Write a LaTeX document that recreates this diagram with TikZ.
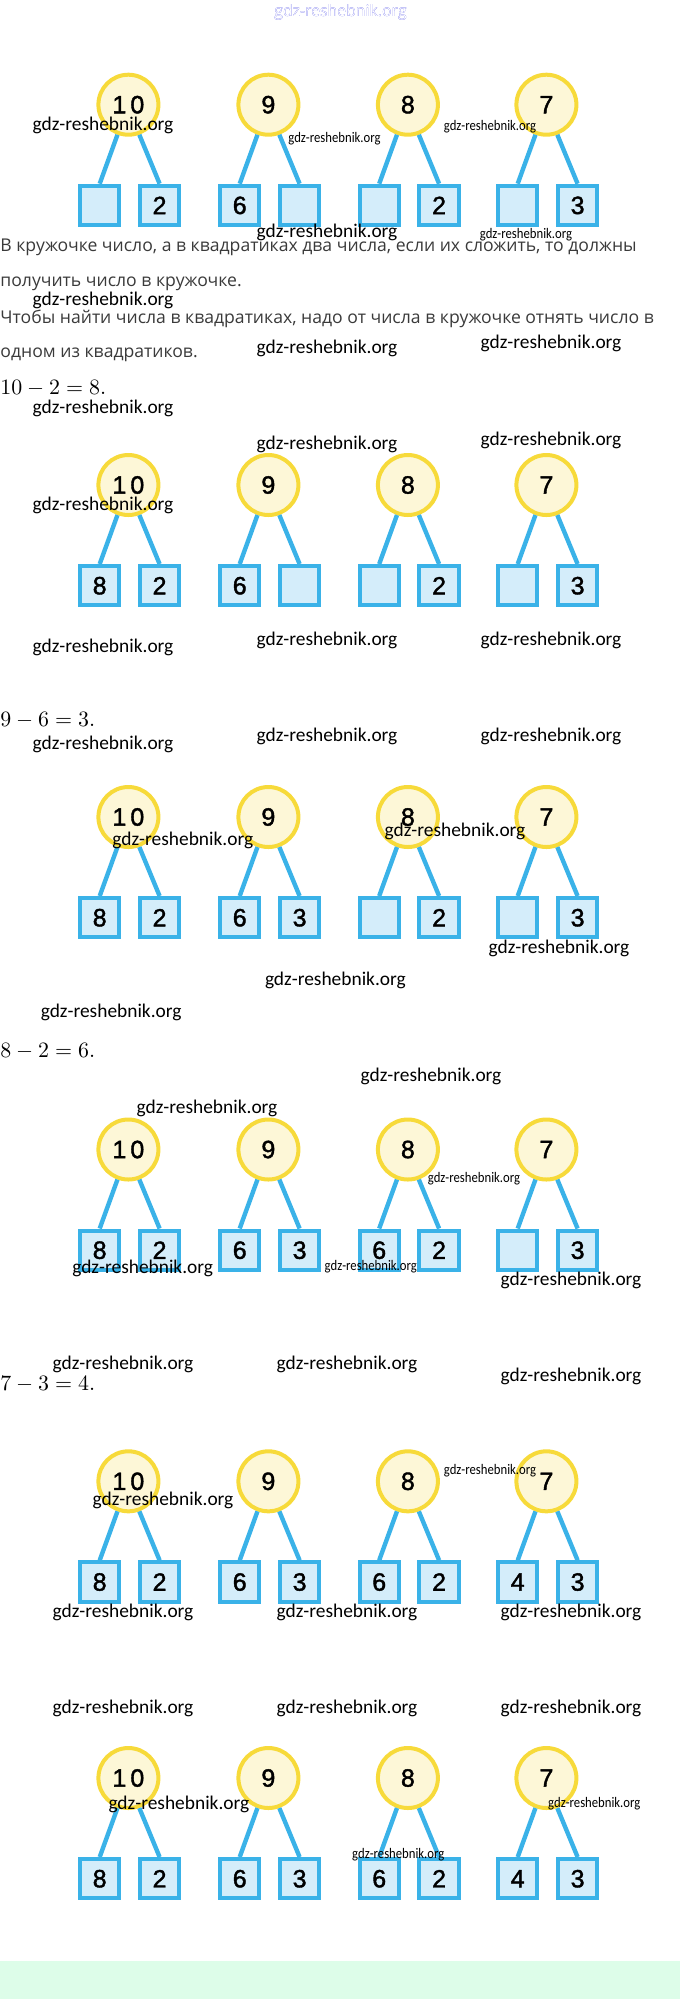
\documentclass[tikz,border=0pt]{standalone}
\usepackage{fontspec}
\usepackage[outline]{contour}
\setmainfont{Open Sans}
\newfontfamily\wmfont{Carlito}
\newfontfamily\numfont[FakeBold=1.6]{Liberation Sans}
\definecolor{ringyellow}{RGB}{247,218,58}
\definecolor{ringfill}{RGB}{253,247,215}
\definecolor{boxblue}{RGB}{58,178,232}
\definecolor{boxfill}{RGB}{212,237,250}
\definecolor{txtgray}{RGB}{58,58,58}
\definecolor{mint}{RGB}{221,253,233}
\definecolor{wmblue}{RGB}{25,25,225}
\contourlength{0.7pt}
\begin{document}
\begin{tikzpicture}[x=0.5pt,y=-0.5pt,
  ring/.style={circle,draw=ringyellow,fill=ringfill,line width=2pt,minimum size=30pt,inner sep=0pt,font=\numfont\fontsize{12.5}{14}\selectfont},
  box/.style={rectangle,draw=boxblue,fill=boxfill,line width=2pt,minimum size=19.7pt,inner sep=0pt,font=\numfont\fontsize{12.5}{14}\selectfont},
  stem/.style={boxblue,line width=2.2pt},
  txt/.style={anchor=west,inner sep=0pt,text=txtgray,font=\fontsize{8.8}{10}\selectfont},
  eq/.style={anchor=west,inner sep=0pt,font=\fontsize{10.5}{12}\selectfont},
  wm/.style={inner sep=0pt,font=\wmfont\fontsize{9.7}{11}\selectfont},
  wms/.style={inner sep=0pt,xscale=0.87,font=\wmfont\fontsize{7.3}{8}\selectfont}]
\useasboundingbox (0,0) rectangle (680,1999);
\fill[mint] (0,1961) rectangle (680,1999); %bottom band

% six rows of circles and squares
\foreach \py/\la/\ra/\lb/\rb/\lc/\rc/\ld/\rd [count=\p] in
  {104.7/{}/2/6/{}/{}/2/{}/3,
   485/8/2/6/{}/{}/2/{}/3,
   817/8/2/6/3/{}/2/{}/3,
   1149.5/8/2/6/3/6/2/{}/3,
   1481.3/8/2/6/3/6/2/4/3,
   1778/8/2/6/3/6/2/4/3}{
  \foreach \cx/\top/\l/\r [count=\i] in
    {128.4/1\kern2pt0/\la/\ra, 268.4/9/\lb/\rb, 407.9/8/\lc/\rc, 546.4/7/\ld/\rd}{
    \node[ring] (r\p\i) at (\cx,\py) {\top};
    \node[box] (lt\p\i) at (\cx-28.7,\py+100.7) {\l};
    \node[box] (rt\p\i) at (\cx+31.2,\py+100.7) {\r};
    \draw[stem] (r\p\i.250) -- (lt\p\i.north);
    \draw[stem] (r\p\i.290) -- (rt\p\i.north);
  }
}

% explanation
\node[txt] (t1) at (0,247.3) {В кружочке число, а в квадратиках два числа, если их сложить, то должны};
\node[txt] (t2) at (0,284) {получить число в кружочке.};
\node[txt] (t3) at (0,319) {Чтобы найти числа в квадратиках, надо от числа в кружочке отнять число в};
\node[txt] (t4) at (0,355) {одном из квадратиков.};
\node[eq] (e1) at (0,388.3) {$10-2=8.$};
\node[eq] (e2) at (0,720) {$9-6=3.$};
\node[eq] (e3) at (0,1051.7) {$8-2=6.$};
\node[eq] (e4) at (0,1384) {$7-3=4.$};

% watermarks
\node[inner sep=0pt,font=\fontsize{7.9}{9}\selectfont] (w0) at (340.5,12.5) {\contour{wmblue}{\textcolor{white}{gdz-reshebnik.org}}};
\foreach \wx/\wy [count=\k] in {103/125, 327/232.3, 103/300, 327/348.3, 551/343.3,
  103/408.3, 327/444, 551/440, 103/505, 103/647.7, 327/640, 551/640,
  103/744, 327/736.7, 551/736.7, 182.8/840, 455/831.7, 559/948.3, 335.4/980,
  111.2/1012.7, 431/1076.7, 207/1108.3, 142.7/1268.3, 571/1280,
  123/1364, 347/1364, 571/1376.7, 163/1500, 123/1612.7, 347/1612.7, 571/1612.7,
  123/1708.3, 347/1708.3, 571/1708.3, 178.9/1804.3}
  \node[wm] (w\k) at (\wx,\wy) {gdz-reshebnik.org};
\foreach \wx/\wy [count=\k] in {334.5/138.3, 490/126.7, 526/235, 474/1179,
  370.8/1266.7, 490/1470.7, 594.3/1803.3, 398.3/1855}
  \node[wms] (ws\k) at (\wx,\wy) {gdz-reshebnik.org};
\end{tikzpicture}
\end{document}
